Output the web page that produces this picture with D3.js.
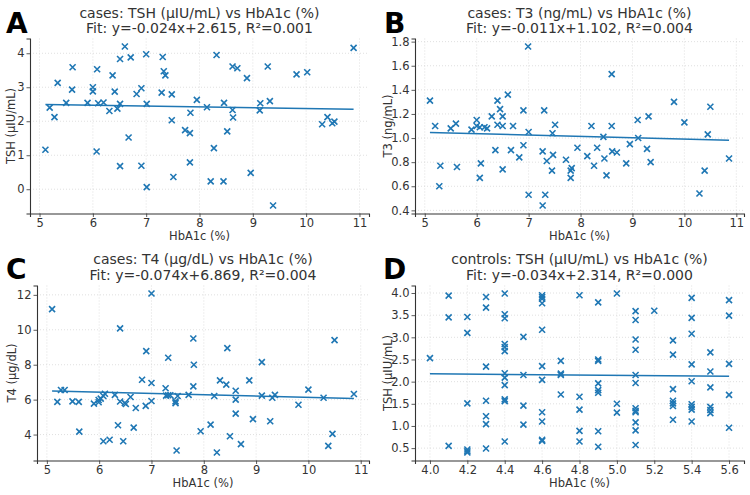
<!DOCTYPE html>
<html lang="en">

<head>
    <meta charset="UTF-8">
    <title>Thyroid markers vs HbA1c</title>
    <script src="https://d3js.org/d3.v7.min.js"></script>
    <style>
        body { margin: 0; background: #fff; }
        text { font-family: "DejaVu Sans", sans-serif; fill: #333; }
    </style>
</head>

<body>
    <svg width="750" height="495"></svg>
    <script>
        // panel letters, titles and fit numbers
        const panelLetters = ['A', 'B', 'C', 'D'];
        const panelTitles = [
            'cases: TSH (µIU/mL) vs HbA1c (%)',
            'cases: T3 (ng/mL) vs HbA1c (%)',
            'cases: T4 (µg/dL) vs HbA1c (%)',
            'controls: TSH (µIU/mL) vs HbA1c (%)'
        ];
        const yLabels = ['TSH (µIU/mL)', 'T3 (ng/mL)', 'T4 (µg/dL)', 'TSH (µIU/mL)'];
        const fitSlopes = [-0.024, -0.011, -0.074, -0.034];
        const fitIntercepts = [2.615, 1.102, 6.869, 2.314];
        const fitR2 = [0.001, 0.004, 0.004, 0.000];

        // tick values
        const ticksX_cases = [5, 6, 7, 8, 9, 10, 11];
        const ticksX_controls = [4.0, 4.2, 4.4, 4.6, 4.8, 5.0, 5.2, 5.4, 5.6];
        const ticksY_A = [0, 1, 2, 3, 4];
        const ticksY_B = [0.4, 0.6, 0.8, 1.0, 1.2, 1.4, 1.6, 1.8];
        const ticksY_C = [4, 6, 8, 10, 12];
        const ticksY_D = [0.5, 1.0, 1.5, 2.0, 2.5, 3.0, 3.5, 4.0];

        // A: cases TSH
        const casesTSH_hba1c = [5.62, 5.34, 5.61, 6.00, 6.00, 6.08, 6.37, 6.41, 6.51, 6.60, 6.71, 6.82, 6.91, 7.00, 7.31, 7.33,
            7.36, 7.29, 7.48, 7.95, 8.32, 8.62, 8.71, 8.89, 9.28, 9.82, 10.02, 10.89, 8.46, 9.14, 9.32,
            5.19, 5.28, 5.50, 5.90, 6.10, 6.20, 6.31, 6.46, 6.51, 7.01, 7.48, 7.73, 7.82, 7.83, 8.14, 8.62,
            8.63, 8.52, 8.27, 9.13, 10.30, 10.40, 10.49, 10.53, 5.11, 6.07, 6.67, 6.51, 6.91, 7.01, 7.51,
            7.82, 8.21, 8.45, 8.96, 9.38];
        const casesTSH = [3.59, 3.13, 2.93, 3.00, 2.88, 3.53, 3.35, 2.87, 3.83, 4.20, 3.88, 2.80, 2.97, 3.97, 3.89, 3.47,
            3.35, 2.84, 2.79, 2.63, 3.95, 3.61, 3.56, 3.27, 3.61, 3.38, 3.44, 4.16, 2.54, 2.53, 2.59,
            2.40, 2.12, 2.54, 2.54, 2.53, 2.55, 2.30, 2.37, 2.51, 2.51, 2.03, 1.74, 1.65, 2.25, 2.41, 2.33,
            2.11, 1.70, 1.21, 2.32, 1.91, 2.12, 1.94, 1.99, 1.16, 1.11, 1.52, 0.68, 0.69, 0.06, 0.36,
            0.79, 0.23, 0.23, 0.48, -0.48];

        // B: cases T3
        const casesT3_hba1c = [5.10, 5.20, 5.50, 5.60, 5.90, 6.00, 6.00, 6.06, 6.15, 6.20, 6.29, 6.40, 6.45, 6.50, 6.40, 6.50,
            6.60, 6.70, 6.90, 6.99, 7.30, 7.51, 8.21, 8.60, 8.60, 9.10, 9.31, 9.80, 10.00, 10.50,
            7.00, 7.46, 9.11, 8.44, 10.45, 5.30, 5.28, 5.62, 6.08, 6.06, 6.36, 6.50, 6.66, 6.82, 6.90, 7.00,
            7.27, 7.27, 7.32, 7.35, 7.47, 7.45, 7.72, 7.81, 7.83, 7.81, 7.94, 8.13, 8.26, 8.32, 8.46, 8.50,
            8.61, 8.70, 8.88, 8.95, 9.28, 9.35, 10.29, 10.39, 10.86];
        const casesT3 = [1.31, 1.10, 1.08, 1.12, 1.07, 1.15, 1.10, 1.09, 1.09, 1.08, 1.18, 1.31, 1.24, 1.18, 1.11, 1.10,
            1.36, 1.10, 1.23, 1.76, 1.23, 1.11, 1.10, 1.53, 1.10, 1.15, 1.18, 1.30, 1.13, 1.26,
            1.05, 1.04, 1.00, 1.01, 1.03, 0.77, 0.60, 0.76, 0.79, 0.67, 0.90, 0.74, 0.90, 0.84, 0.94, 0.53,
            0.89, 0.44, 0.53, 0.81, 0.86, 0.73, 0.82, 0.73, 0.75, 0.67, 0.92, 0.85, 0.77, 0.92, 0.83, 0.69,
            0.89, 0.88, 0.79, 0.95, 0.91, 0.80, 0.54, 0.73, 0.83];

        // C: cases T4
        const casesT4_hba1c = [5.10, 7.00, 6.40, 6.90, 7.32, 7.80, 7.81, 8.45, 9.11, 10.50,
            5.20, 5.27, 5.34, 5.49, 5.61, 5.62, 5.90, 5.99, 5.99, 6.03, 6.08, 6.11, 6.08, 6.20, 6.30, 6.36,
            6.40, 6.49, 6.51, 6.46, 6.60, 6.66, 6.70, 6.82, 6.89, 7.00, 7.00, 7.27, 7.28, 7.32, 7.36, 7.46,
            7.46, 7.50, 7.48, 7.71, 7.80, 7.94, 8.13, 8.20, 8.25, 8.31, 8.43, 8.50, 8.61, 8.61, 8.61, 8.71,
            8.87, 8.94, 9.11, 9.27, 9.31, 9.36, 9.81, 10.00, 10.29, 10.38, 10.46, 10.87];
        const casesT4 = [11.18, 12.08, 10.08, 8.78, 8.40, 9.50, 8.00, 8.95, 8.15, 9.41,
            5.87, 6.55, 6.55, 5.90, 5.87, 4.17, 5.77, 5.98, 5.85, 6.06, 6.21, 6.34, 3.62, 3.70, 6.27, 4.53,
            5.89, 5.81, 5.75, 3.62, 6.15, 4.40, 5.52, 7.14, 5.64, 6.95, 5.92, 6.65, 6.23, 6.25, 6.25, 5.90,
            5.80, 6.21, 3.09, 6.27, 6.76, 4.19, 4.57, 6.21, 2.97, 7.10, 6.86, 3.90, 6.51, 6.00, 5.20, 3.45,
            7.10, 4.88, 6.23, 4.76, 6.11, 6.27, 5.71, 6.57, 6.11, 3.35, 4.04, 6.32];

        // D: controls TSH
        const controlsTSH_hba1c = [4.0,
            4.1, 4.1, 4.1,
            4.2, 4.2, 4.2, 4.2, 4.2, 4.2,
            4.3, 4.3, 4.3, 4.3, 4.3, 4.3, 4.3,
            4.4, 4.4, 4.4, 4.4, 4.4, 4.4, 4.4, 4.4, 4.4, 4.4, 4.4, 4.4,
            4.5, 4.5, 4.5, 4.5,
            4.6, 4.6, 4.6, 4.6, 4.6, 4.6, 4.6, 4.6, 4.6, 4.6, 4.6,
            4.7, 4.7, 4.7, 4.7,
            4.8, 4.8, 4.8, 4.8, 4.8,
            4.9, 4.9, 4.9, 4.9, 4.9, 4.9, 4.9, 4.9,
            5.0, 5.0, 5.0,
            5.1, 5.1, 5.1, 5.1, 5.1, 5.1, 5.1, 5.1, 5.1, 5.1, 5.1, 5.1,
            5.2,
            5.3, 5.3, 5.3, 5.3, 5.3, 5.3, 5.3,
            5.4, 5.4, 5.4, 5.4, 5.4, 5.4, 5.4, 5.4, 5.4,
            5.5, 5.5, 5.5, 5.5, 5.5, 5.5,
            5.6, 5.6, 5.6, 5.6, 5.6];
        const controlsTSH = [2.53,
            3.94, 3.45, 0.55,
            3.46, 3.10, 1.51, 0.47, 0.43, 0.40,
            3.91, 3.67, 2.34, 1.57, 1.22, 1.04, 0.49,
            3.99, 3.52, 3.43, 2.85, 2.78, 2.69, 2.19, 2.09, 1.92, 1.60, 1.56, 0.65,
            3.01, 2.15, 1.46, 1.03,
            3.95, 3.91, 3.87, 3.77, 3.17, 2.35, 2.04, 1.31, 1.10, 0.69, 0.66,
            2.47, 2.18, 2.15, 1.71,
            3.95, 1.66, 1.37, 0.89, 0.65,
            3.79, 2.50, 2.47, 1.96, 1.81, 1.75, 0.88, 0.53,
            3.99, 1.50, 1.30,
            3.59, 3.39, 2.95, 2.72, 2.15, 1.97, 1.40, 1.34, 1.31, 1.08, 0.90, 0.57,
            3.60,
            2.93, 2.61, 1.83, 1.57, 1.51, 1.45, 1.14,
            3.89, 3.44, 3.08, 2.39, 2.01, 1.49, 1.43, 1.37, 1.10,
            2.66, 2.23, 1.87, 1.43, 1.36, 1.29,
            3.84, 3.49, 2.40, 1.70, 0.96];

        const panels = [
            { xs: casesTSH_hba1c, ys: casesTSH, xt: ticksX_cases, yt: ticksY_A, xf: d3.format('d'), yf: d3.format('d'),
              box: { l: 30, r: 369, t: 38.5, b: 213.5 }, titleY: 17.5, letterX: 6, letterY: 32.5, ylabOff: 15 },
            { xs: casesT3_hba1c, ys: casesT3, xt: ticksX_cases, yt: ticksY_B, xf: d3.format('d'), yf: d3.format('.1f'),
              box: { l: 415, r: 744, t: 38.5, b: 213.5 }, titleY: 17.5, letterX: 384, letterY: 32.5, ylabOff: 23 },
            { xs: casesT4_hba1c, ys: casesT4, xt: ticksX_cases, yt: ticksY_C, xf: d3.format('d'), yf: d3.format('d'),
              box: { l: 37, r: 369, t: 285.5, b: 460.5 }, titleY: 264, letterX: 6, letterY: 278.5, ylabOff: 21.5 },
            { xs: controlsTSH_hba1c, ys: controlsTSH, xt: ticksX_controls, yt: ticksY_D, xf: d3.format('.1f'), yf: d3.format('.1f'),
              box: { l: 415, r: 744, t: 285.5, b: 460.5 }, titleY: 264, letterX: 383, letterY: 278.5, ylabOff: 23 }
        ];

        const svg = d3.select('svg');
        const blue = '#1f77b4';

        // matplotlib-style 5% margin
        function padded(vals) {
            const [lo, hi] = d3.extent(vals);
            const m = (hi - lo) * 0.05;
            return [lo - m, hi + m];
        }

        panels.forEach((p, i) => {
            const b = p.box;
            const x = d3.scaleLinear().domain(padded(p.xs)).range([b.l, b.r]);
            const y = d3.scaleLinear().domain(padded(p.ys)).range([b.b, b.t]);
            const g = svg.append('g');

            // grid
            g.selectAll('.gx').data(p.xt).enter().append('line')
                .attr('x1', d => x(d)).attr('x2', d => x(d))
                .attr('y1', b.t).attr('y2', b.b)
                .attr('stroke', '#d8d8d8').attr('stroke-width', 0.8).attr('stroke-dasharray', '1,2');
            g.selectAll('.gy').data(p.yt).enter().append('line')
                .attr('x1', b.l).attr('x2', b.r)
                .attr('y1', d => y(d)).attr('y2', d => y(d))
                .attr('stroke', '#d8d8d8').attr('stroke-width', 0.8).attr('stroke-dasharray', '1,2');

            // axes
            const xAxis = g.append('g').attr('transform', `translate(0,${b.b})`)
                .call(d3.axisBottom(x).tickValues(p.xt).tickFormat(p.xf).tickSizeOuter(0).tickSize(3.5).tickPadding(2));
            const yAxis = g.append('g').attr('transform', `translate(${b.l},0)`)
                .call(d3.axisLeft(y).tickValues(p.yt).tickFormat(p.yf).tickSizeOuter(0).tickSize(3.5).tickPadding(2));
            [xAxis, yAxis].forEach(a => {
                a.select('.domain').attr('stroke', '#333').attr('stroke-width', 1.1);
                a.selectAll('.tick line').attr('stroke', '#333').attr('stroke-width', 0.8);
                a.selectAll('text').attr('font-size', 11.5).attr('fill', '#333')
                    .attr('font-family', '"DejaVu Sans", sans-serif');
            });

            // axis labels
            g.append('text').attr('x', (b.l + b.r) / 2).attr('y', b.b + 26.5)
                .attr('text-anchor', 'middle').attr('font-size', 11.5).text('HbA1c (%)');
            g.append('text')
                .attr('transform', `translate(${b.l - p.ylabOff},${(b.t + b.b) / 2}) rotate(-90)`)
                .attr('text-anchor', 'middle').attr('font-size', 11.5).text(yLabels[i]);

            // fit line
            const xr = d3.extent(p.xs);
            g.append('line')
                .attr('x1', x(xr[0])).attr('y1', y(fitSlopes[i] * xr[0] + fitIntercepts[i]))
                .attr('x2', x(xr[1])).attr('y2', y(fitSlopes[i] * xr[1] + fitIntercepts[i]))
                .attr('stroke', blue).attr('stroke-width', 1.5);

            // x markers
            const s = 3;
            g.selectAll('.pt').data(d3.range(p.xs.length)).enter().append('path')
                .attr('d', k => {
                    const cx = x(p.xs[k]), cy = y(p.ys[k]);
                    return `M${cx - s},${cy - s}L${cx + s},${cy + s}M${cx - s},${cy + s}L${cx + s},${cy - s}`;
                })
                .attr('stroke', blue).attr('stroke-width', 1.6).attr('fill', 'none');

            // titles
            const cx = (b.l + b.r) / 2;
            g.append('text').attr('x', cx).attr('y', p.titleY).attr('text-anchor', 'middle')
                .attr('font-size', 14).text(panelTitles[i]);
            g.append('text').attr('x', cx).attr('y', p.titleY + 15.5).attr('text-anchor', 'middle')
                .attr('font-size', 14)
                .text(`Fit: y=${fitSlopes[i].toFixed(3)}x+${fitIntercepts[i].toFixed(3)}, R²=${fitR2[i].toFixed(3)}`);

            // panel letter
            g.append('text').attr('x', p.letterX).attr('y', p.letterY)
                .attr('font-size', 28).attr('font-weight', 'bold').style('fill', '#000')
                .text(panelLetters[i]);
        });
    </script>
</body>

</html>
